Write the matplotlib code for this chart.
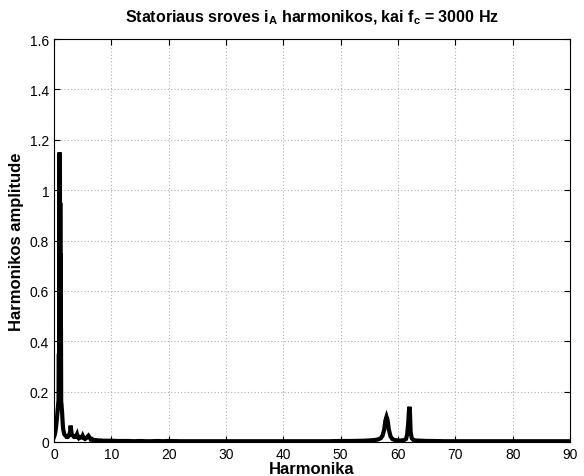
import numpy as np
import matplotlib.pyplot as plt

plt.rcParams['font.family'] = ['Liberation Sans', 'DejaVu Sans']
plt.rcParams['mathtext.fontset'] = 'custom'
plt.rcParams['mathtext.rm'] = 'Liberation Sans:bold'
plt.rcParams['mathtext.bf'] = 'Liberation Sans:bold'

# Stator current spectrum (harmonic order vs amplitude)
harm = [0.0, 0.15, 0.3, 0.45, 0.6, 0.7, 0.8, 0.85, 0.88, 0.91, 0.94, 0.97,
        1.0, 1.03, 1.06, 1.09, 1.12, 1.15, 1.18, 1.21, 1.25, 1.3, 1.4, 1.5,
        1.6, 1.8, 2.0, 2.2, 2.4, 2.6, 2.8,
        2.9, 3.0, 3.1, 3.3, 3.5, 3.7, 3.9, 4.0, 4.1, 4.3, 4.5, 4.7, 4.9,
        5.0, 5.2, 5.4, 5.6, 5.8, 6.0, 6.2, 6.4, 6.6, 6.8, 7.0, 7.4, 7.8,
        8.2, 8.6, 9.0, 10.0, 11.0, 12.0, 13.0, 14.0, 15.0, 16.0, 17.0,
        18.0, 19.0, 20.0, 22.0, 24.0, 26.0, 28.0, 30.0, 32.0, 34.0, 36.0,
        38.0, 40.0, 42.0, 44.0, 46.0, 48.0, 50.0, 52.0, 54.0, 55.0, 56.0,
        56.5, 57.0, 57.3, 57.6, 57.8, 58.0, 58.2, 58.4, 58.7, 59.0, 59.5,
        60.0, 60.5, 61.0, 61.4, 61.6, 61.8, 61.9, 62.0, 62.1, 62.2, 62.4,
        62.7, 63.0, 64.0, 65.0, 66.0, 68.0, 70.0, 72.0, 74.0, 76.0, 78.0,
        80.0, 82.0, 84.0, 86.0, 88.0, 90.0]
amp = [0.02, 0.03, 0.05, 0.08, 0.12, 0.15, 0.17, 0.35, 0.17, 0.7, 0.17,
       1.15, 0.18, 1.1, 0.18, 0.95, 0.17, 0.75, 0.17, 0.45, 0.16, 0.15,
       0.12, 0.08, 0.05, 0.03, 0.025,
       0.02, 0.02, 0.025, 0.04, 0.065, 0.045, 0.03, 0.025, 0.02, 0.02,
       0.025, 0.03, 0.02, 0.015, 0.02, 0.018, 0.02, 0.025, 0.015, 0.012,
       0.015, 0.02, 0.025, 0.018, 0.01, 0.012, 0.008, 0.008, 0.007, 0.006,
       0.006, 0.005, 0.005, 0.005, 0.004, 0.004, 0.004, 0.003, 0.004,
       0.003, 0.003, 0.004, 0.003, 0.004, 0.003, 0.003, 0.003, 0.003,
       0.003, 0.003, 0.003, 0.003, 0.003, 0.003, 0.003, 0.003, 0.003,
       0.003, 0.004, 0.004, 0.005, 0.006, 0.008, 0.01, 0.015, 0.025,
       0.05, 0.085, 0.1, 0.085, 0.05, 0.022, 0.012, 0.007, 0.006, 0.006,
       0.007, 0.012, 0.03, 0.08, 0.12, 0.14, 0.11, 0.04, 0.015, 0.008,
       0.006, 0.005, 0.004, 0.004, 0.003, 0.003, 0.003, 0.003, 0.003,
       0.003, 0.003, 0.003, 0.003, 0.003, 0.003, 0.003]

fig = plt.figure(figsize=(5.84, 4.77), dpi=100)
ax = fig.add_axes([0.0925, 0.0713, 0.8835, 0.8447])

ax.plot(harm, amp, color='black', linewidth=3.0, solid_joinstyle='miter')

ax.set_xlim(0, 90)
ax.set_ylim(0, 1.6)
ax.set_xticks(np.arange(0, 91, 10))
ax.set_yticks(np.arange(0, 1.61, 0.2))
ax.set_yticklabels(['0', '0.2', '0.4', '0.6', '0.8', '1', '1.2', '1.4', '1.6'])
ax.tick_params(direction='in', top=True, right=True, labelsize=10, length=4)
ax.grid(True, linestyle=(0, (1, 2)), color='#b0b0b0', linewidth=0.8)
for sp in ax.spines.values():
    sp.set_linewidth(0.8)

ax.set_xlabel('Harmonika', fontsize=12, fontweight='bold', labelpad=0)
ax.set_ylabel('Harmonikos amplitude', fontsize=12, fontweight='bold', labelpad=4)
ax.set_title(r'Statoriaus sroves $\mathrm{i_A}$ harmonikos, kai $\mathrm{f_c}$ = 3000 Hz',
             fontsize=11.5, fontweight='bold', pad=13)

fig.savefig('out.png', dpi=100)
